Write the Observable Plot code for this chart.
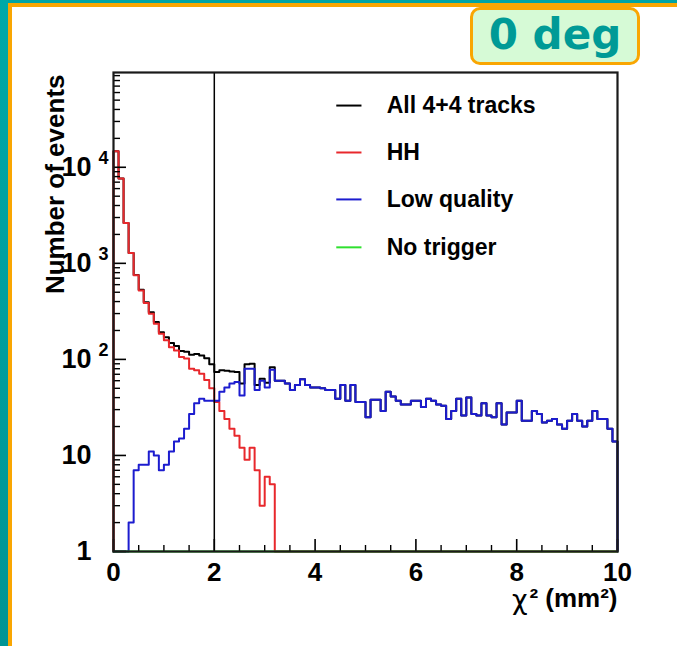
<!DOCTYPE html>
<html><head><meta charset="utf-8">
<script src="https://cdn.jsdelivr.net/npm/d3@7"></script>
<script src="https://cdn.jsdelivr.net/npm/@observablehq/plot@0.6"></script>
<style>
html,body{margin:0;padding:0;background:#fff;}
#page{position:relative;width:677px;height:646px;overflow:hidden;background:#fff;}
#chart{position:absolute;left:0;top:0;}
.bar{position:absolute;}
#badge{position:absolute;left:470px;top:7px;width:170px;height:58px;box-sizing:border-box;border:3.5px solid #f9a602;border-radius:10px;background:#d6fad6;color:#009a96;font:bold 42px "DejaVu Sans",sans-serif;text-align:center;line-height:50px;}
</style></head><body>
<div id="page">
  <div id="chart"></div>
  <div class="bar" style="left:0;top:0;width:677px;height:3px;background:#00a4a4"></div>
  <div class="bar" style="left:8px;top:3px;width:669px;height:4px;background:#f9a602"></div>
  <div class="bar" style="left:0;top:0;width:8px;height:646px;background:linear-gradient(#00a8a8,#009494)"></div>
  <div class="bar" style="left:8px;top:3px;width:4px;height:643px;background:#f9a602"></div>
  <div id="badge">0 deg</div>
</div>
<script>
// ---- data: 100 bins of width 0.1 in chi^2 (mm^2) ----
const binWidth = 0.1;
const allTracks = [14700,7630,2630,1282,757,531,394,310,245,192,
  170,148,138,122,120,112,114,110,103,89,
  74,77,76,75,74,56,89,90,54,63,
  57,83,60,60,56,48,54,62,54,51,
  51,50,48,48,39,54,37,54,36,36,
  25,38,38,29,46,41,37,34,34,37,
  37,32,39,37,34,33,24,29,39,26,
  40,27,26,35,26,25,35,21,28,28,
  37,23,23,29,27,22,23,24,21,19,
  23,27,23,20,23,29,24,24,19,14];
const hh = [14700,7630,2630,1280,750,523,386,299,235,185,
  158,134,124,106,102,80,77,71,61,50,
  36,29,24,19,16,12,9,12,7,3,
  6,5,0,0,0,0,0,0,0,0,
  0,0,0,0,0,0,0,0,0,0,
  0,0,0,0,0,0,0,0,0,0,
  0,0,0,0,0,0,0,0,0,0,
  0,0,0,0,0,0,0,0,0,0,
  0,0,0,0,0,0,0,0,0,0,
  0,0,0,0,0,0,0,0,0,0];
const lowQuality = [0,0,0,2,7,8,8,11,10,7,
  8,11,14,15,19,27,35,39,37,37,
  37,46,51,56,58,42,80,80,48,60,
  51,78,60,60,56,48,54,62,54,51,
  51,50,48,48,39,54,37,54,36,36,
  25,38,38,29,46,41,37,34,34,37,
  37,32,39,37,34,33,24,29,39,26,
  40,27,26,35,26,25,35,21,28,28,
  37,23,23,29,27,22,23,24,21,19,
  23,27,23,20,23,29,24,24,19,14];
const noTrigger = [0,0,0,0,0,0,0,0,0,0,
  0,0,0,0,0,0,0,0,0,0,
  0,0,0,0,0,0,0,0,0,0,
  0,0,0,0,0,0,0,0,0,0,
  0,0,0,0,0,0,0,0,0,0,
  0,0,0,0,0,0,0,0,0,0,
  0,0,0,0,0,0,0,0,0,0,
  0,0,0,0,0,0,0,0,0,0,
  0,0,0,0,0,0,0,0,0,0,
  0,0,0,0,0,0,0,0,0,0];

const seriesNames = ["All 4+4 tracks", "HH", "Low quality", "No trigger"];
const seriesColors = ["#000000", "#e8282c", "#1c1ccf", "#2fe02f"];
const seriesValues = [allTracks, hh, lowQuality, noTrigger];

const xTicks = [0, 2, 4, 6, 8, 10];
const xMinorTicks = [0.5,1,1.5,2.5,3,3.5,4.5,5,5.5,6.5,7,7.5,8.5,9,9.5];
const yTicks = [1, 10, 100, 1000, 10000];
const yTickBase = ["1", "10", "10", "10", "10"];
const yTickExp = ["", "", "2", "3", "4"];
const xTitleSymbol = "\u03c7";
const xTitleRest = "\u00b2 (mm\u00b2)";
const yTitle = "Number of events";
const cutValue = 2;

const xMax = 10, yMin = 1, yMax = 97000;
const yMinor = [];
for (let e = 0; e <= 4; e++) for (let m = 2; m <= 9; m++) yMinor.push(m * 10 ** e);

// histogram outline points (ROOT-style step, clamped to the log-axis floor)
function outline(vals) {
  const pts = [{x: 0, y: yMin}];
  vals.forEach((v, i) => pts.push({x: i * binWidth, y: Math.max(v, yMin)}));
  pts.push({x: xMax, y: Math.max(vals[vals.length - 1], yMin)});
  pts.push({x: xMax, y: yMin});
  return pts;
}
const decadeFrac = (px) => 10 ** (px / 96); // pixel length -> factor on log axis
const fracY = (f) => 10 ** ((1 - f) * Math.log10(yMax)); // frame fraction from top
const legendRows = seriesNames.map((name, i) => ({name, color: seriesColors[i], y: fracY([0.069, 0.167, 0.265, 0.365][i])}));

const FONT = "Liberation Sans, Arial, Helvetica, sans-serif";
const drawOrder = [0, 1, 2, 3];

const chart = Plot.plot({
  width: 677, height: 646,
  marginLeft: 113, marginRight: 60, marginTop: 72, marginBottom: 95,
  x: {domain: [0, xMax], axis: null},
  y: {type: "log", domain: [yMin, yMax], axis: null},
  style: {fontFamily: FONT, fontWeight: "bold", background: "transparent", overflow: "visible"},
  marks: [
    // histograms
    ...drawOrder.map(k => Plot.line(outline(seriesValues[k]), {x: "x", y: "y", curve: "step-after", stroke: seriesColors[k], strokeWidth: 2})),
    // cut line
    Plot.ruleX([cutValue], {y1: yMin, y2: yMax, stroke: "#000", strokeWidth: 1.5}),
    // inside ticks
    Plot.ruleY(yMinor, {y: d => d, x1: 0, x2: 7 / 50.4, stroke: "#000", strokeWidth: 1.4}),
    Plot.ruleY(yTicks, {y: d => d, x1: 0, x2: 13 / 50.4, stroke: "#000", strokeWidth: 1.6}),
    Plot.ruleX(xMinorTicks, {x: d => d, y1: yMin, y2: decadeFrac(6), stroke: "#000", strokeWidth: 1.4}),
    Plot.ruleX(xTicks, {x: d => d, y1: yMin, y2: decadeFrac(12), stroke: "#000", strokeWidth: 1.6}),
    Plot.frame({stroke: "#1a1a1a", strokeWidth: 2.2}),
    // tick labels
    Plot.text(yTicks, {x: 0, y: d => d, text: (d, i) => yTickBase[i], textAnchor: "end", dx: -22, fontSize: 27, fontWeight: "bold", fontFamily: FONT}),
    Plot.text(yTicks, {x: 0, y: d => d, text: (d, i) => yTickExp[i], textAnchor: "start", dx: -15, dy: -9, fontSize: 18, fontWeight: "bold", fontFamily: FONT}),
    Plot.text(xTicks, {x: d => d, y: yMin, text: d => String(d), dy: 21, fontSize: 26, fontWeight: "bold", fontFamily: FONT}),
    // axis titles
    Plot.text([xTitleRest], {frameAnchor: "bottom-right", dy: 55, textAnchor: "end", fontSize: 26, fontWeight: "bold", fontFamily: FONT}),
    Plot.text([xTitleSymbol], {frameAnchor: "bottom-right", dx: -90, dy: 57, textAnchor: "end", fontSize: 27, fontWeight: "normal", fontFamily: "DejaVu Sans, sans-serif"}),
    Plot.text([yTitle], {frameAnchor: "top-left", dx: -68, dy: 2, rotate: -90, textAnchor: "end", fontSize: 26, fontWeight: "bold", fontFamily: FONT}),
    // legend
    Plot.link(legendRows, {x1: 4.42, x2: 4.92, y1: "y", y2: "y", stroke: "color", strokeWidth: 2}),
    Plot.text(legendRows, {x: 5.42, y: "y", text: "name", textAnchor: "start", fontSize: 23, fontWeight: "bold", fontFamily: FONT})
  ]
});
document.getElementById("chart").appendChild(chart);
</script>
</body></html>
